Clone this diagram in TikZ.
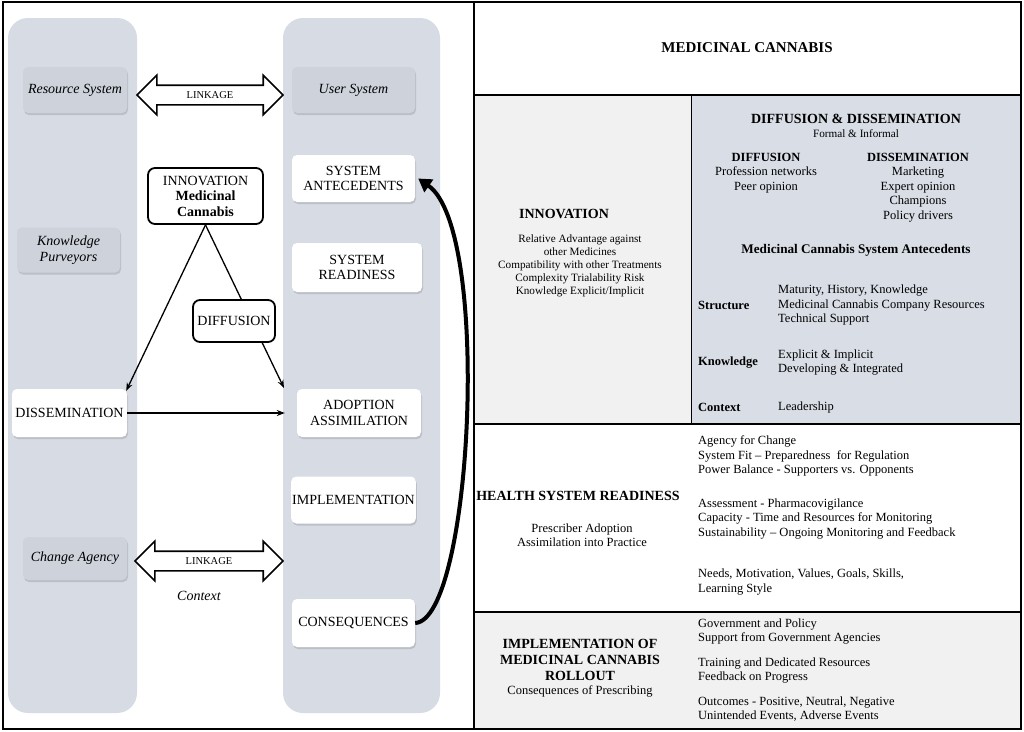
\documentclass[tikz,border=0pt]{standalone}
\usepackage{fontspec}
\setmainfont{Liberation Serif}
\usetikzlibrary{shapes.arrows,shadows,arrows.meta}
\definecolor{colbg}{HTML}{D6DBE4}
\definecolor{boxgray}{HTML}{CDD2DB}
\definecolor{rblue}{HTML}{D9DDE6}
\definecolor{lightgr}{HTML}{F1F1F1}
\newcommand\LeftFont{\fontsize{14}{15.5}\selectfont}
\newcommand\RightFont{\fontsize{12.5}{14.5}\selectfont}
\newcommand\HeadFont{\fontsize{14}{15.5}\selectfont\bfseries}
\newcommand\SmallFont{\fontsize{11.2}{13}\selectfont}
\newcommand\LinkFont{\fontsize{10.5}{12}\selectfont}
\begin{document}
\begin{tikzpicture}[x=1pt,y=-1pt,
  shadowed/.style={drop shadow={opacity=0.3,shadow xshift=1pt,shadow yshift=-2pt}},
  graybox/.style={fill=boxgray,rounded corners=5pt,shadowed,font=\LeftFont\itshape,align=center,inner sep=1pt},
  whitebox/.style={fill=white,rounded corners=5pt,shadowed,font=\LeftFont,align=center,inner sep=1pt},
  thickbox/.style={draw,line width=1.8pt,fill=white,rounded corners=7pt,font=\LeftFont,align=center,inner sep=1pt},
  linkarrow/.style={double arrow,draw,line width=1.6pt,fill=white,font=\LinkFont,double arrow head extend=10pt,
     text height=7pt,text depth=0pt,inner ysep=5.5pt,inner xsep=0pt},
  arr/.style={line width=1.3pt,-{Stealth[length=8pt,width=6pt]}},
  rtext/.style={font=\RightFont,align=left,anchor=west,inner sep=0pt},
  ctext/.style={font=\RightFont,align=center,inner sep=0pt},
  btext/.style={font=\RightFont\bfseries,align=center,inner sep=0pt},
  htext/.style={font=\HeadFont,align=center,inner sep=0pt}
]
\useasboundingbox (0,0) rectangle (1024,731);
\fill[white] (0,0) rectangle (1024,731);

% ---------- left panel ----------
\fill[colbg,rounded corners=20pt] (8,18) rectangle (137,713);
\fill[colbg,rounded corners=20pt] (283,18) rectangle (440,713);

\node[graybox,minimum width=104pt,minimum height=46pt] (res) at (75,90) {Resource System};
\node[graybox,minimum width=123pt,minimum height=46pt] (user) at (353.5,90) {User System};
\node[graybox,minimum width=103pt,minimum height=45pt] (know) at (68.5,250) {Knowledge\\Purveyors};
\node[graybox,minimum width=104pt,minimum height=43pt] (chg) at (75,558.5) {Change Agency};

\node[whitebox,minimum width=123pt,minimum height=47pt] (sysant) at (353.5,178.5) {SYSTEM\\ANTECEDENTS};
\node[whitebox,minimum width=130pt,minimum height=49pt] (sysready) at (357,267.5) {SYSTEM\\READINESS};
\node[whitebox,minimum width=115pt,minimum height=48pt] (dissem) at (69.5,413) {DISSEMINATION};
\node[whitebox,minimum width=124pt,minimum height=48pt] (adopt) at (359,413) {ADOPTION\\ASSIMILATION};
\node[whitebox,minimum width=123pt,minimum height=47pt] (impl) at (353.5,500) {IMPLEMENTATION};
\node[whitebox,minimum width=123pt,minimum height=48pt] (conseq) at (353.5,623) {CONSEQUENCES};

\node[linkarrow,minimum height=146pt] (link1) at (210,95) {LINKAGE};
\node[linkarrow,minimum height=148pt] (link2) at (209,561) {LINKAGE};
\node[font=\LeftFont\itshape,inner sep=0pt] (ctx) at (199,596) {Context};

\node[thickbox,minimum width=115pt,minimum height=56pt] (innov) at (205.5,196)
  {INNOVATION\\\textbf{Medicinal}\\\textbf{Cannabis}};

\coordinate (adtip) at (284,388);
\draw[arr] (innov.south) -- ([xshift=-1pt,yshift=-2pt]dissem.north east);
\draw[arr] (innov.south) -- (adtip);
\draw[arr] (dissem.east) -- ([xshift=-12pt]adopt.west);

\node[thickbox,minimum width=82pt,minimum height=42pt] (diff) at (234,321) {DIFFUSION};

\draw[line width=4pt,-{Triangle[length=13pt,width=15pt]}]
  (conseq.east) .. controls (472,620) and (492,230) .. ([xshift=3pt]sysant.east);

% ---------- right panel ----------
\fill[lightgr] (474,95) rectangle (691,424);
\fill[rblue] (691,95) rectangle (1021,424);
\fill[lightgr] (474,612) rectangle (1021,729);

\draw[line width=1.2pt] (3,2) rectangle (1021,729);
\draw[line width=1.2pt] (474,2) -- (474,729);
\draw[line width=1.2pt] (474,95) -- (1021,95);
\draw[line width=1.2pt] (474,424) -- (1021,424);
\draw[line width=1.2pt] (474,612) -- (1021,612);
\draw[line width=1pt] (691,95) -- (691,424);

\node[font=\fontsize{15}{17}\selectfont\bfseries,inner sep=0pt] (mc) at (747,48) {MEDICINAL CANNABIS};

\node[htext] (dd) at (856,119) {DIFFUSION \& DISSEMINATION};
\node[font=\SmallFont,inner sep=0pt] (fi) at (856,134) {Formal \& Informal};
\node[ctext,anchor=north] (difl) at (766,153) {\textbf{DIFFUSION}\\Profession networks\\Peer opinion};
\node[ctext,anchor=north] (disl) at (918,153) {\textbf{DISSEMINATION}\\Marketing\\Expert opinion\\Champions\\Policy drivers};
\node[font=\fontsize{13.2}{15}\selectfont\bfseries,inner sep=0pt] (mcsa) at (856,250) {Medicinal Cannabis System Antecedents};

\node[btext,anchor=west] (st) at (698,305) {Structure};
\node[rtext] (stl) at (778,305) {Maturity, History, Knowledge\\Medicinal Cannabis Company Resources\\Technical Support};
\node[btext,anchor=west] (kn) at (698,363) {Knowledge};
\node[rtext] (knl) at (778,362.5) {Explicit \& Implicit\\Developing \& Integrated};
\node[btext,anchor=west] (cx) at (698,407) {Context};
\node[rtext] (cxl) at (778,407) {Leadership};

\node[htext] (inn) at (564,214) {INNOVATION};
\node[font=\SmallFont,align=center,inner sep=0pt,anchor=north] (innl) at (580,235)
  {Relative Advantage against\\other Medicines\\Compatibility with other Treatments\\Complexity Trialability Risk\\Knowledge Explicit/Implicit};

\node[htext] (hsr) at (578,496) {HEALTH SYSTEM READINESS};
\node[ctext] (hsrl) at (582,535) {Prescriber Adoption\\Assimilation into Practice};
\node[rtext] (h1) at (698,456) {Agency for Change\\System Fit -- Preparedness\ \ for Regulation\\Power Balance - Supporters vs. Opponents};
\node[rtext] (h2) at (698,519) {Assessment - Pharmacovigilance\\Capacity - Time and Resources for Monitoring\\Sustainability -- Ongoing Monitoring and Feedback};
\node[rtext] (h3) at (698,582) {Needs, Motivation, Values, Goals, Skills,\\Learning Style};

\node[font=\fontsize{14}{15.7}\selectfont\bfseries,align=center,inner sep=0pt] (imp) at (580,660) {IMPLEMENTATION OF\\MEDICINAL CANNABIS\\ROLLOUT};
\node[ctext] (impl2) at (580,691) {Consequences of Prescribing};
\node[rtext] (i1) at (698,631.5) {Government and Policy\\Support from Government Agencies};
\node[rtext] (i2) at (698,670.5) {Training and Dedicated Resources\\Feedback on Progress};
\node[rtext] (i3) at (698,709) {Outcomes - Positive, Neutral, Negative\\Unintended Events, Adverse Events};
\end{tikzpicture}
\end{document}
